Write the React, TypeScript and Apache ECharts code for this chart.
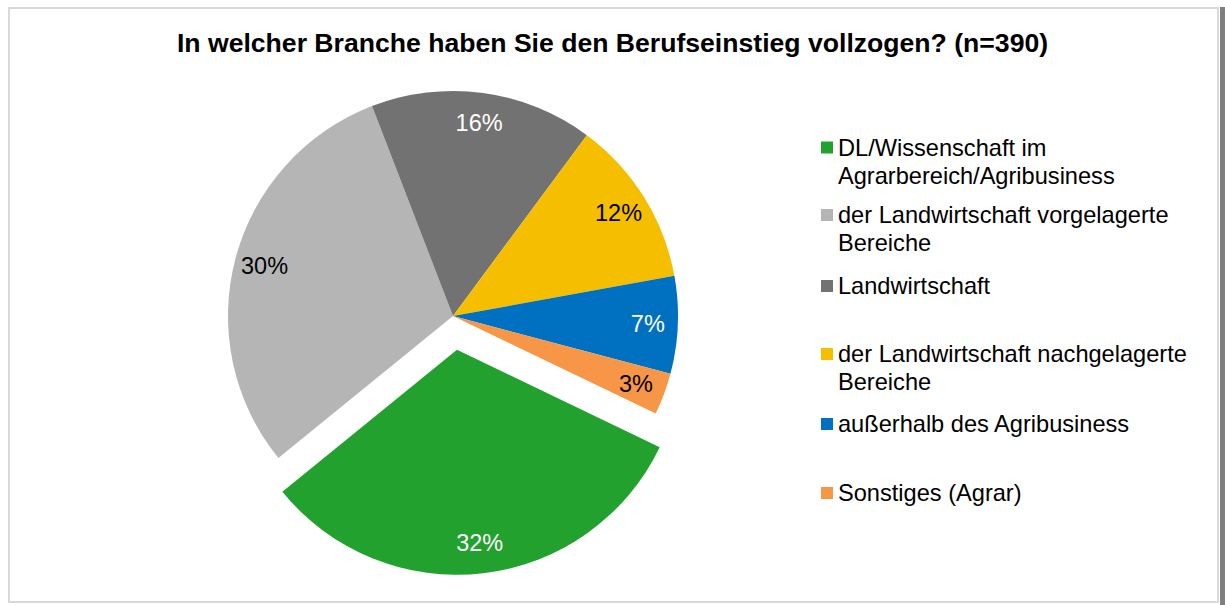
import React, { useEffect, useRef } from "react";
import * as echarts from "echarts";

const FONT = "'Liberation Sans', Arial, sans-serif";

const titleText = "In welcher Branche haben Sie den Berufseinstieg vollzogen? (n=390)";
const categories = [
  "DL/Wissenschaft im\nAgrarbereich/Agribusiness",
  "der Landwirtschaft vorgelagerte\nBereiche",
  "Landwirtschaft",
  "der Landwirtschaft nachgelagerte\nBereiche",
  "außerhalb des Agribusiness",
  "Sonstiges (Agrar)",
];
const shares = [32, 30, 16, 12, 7, 3];

const colors = ["#22A12F", "#B5B5B5", "#727272", "#F5BF00", "#0070C0", "#F79646"];
const labelColors = ["#FFFFFF", "#000000", "#FFFFFF", "#000000", "#FFFFFF", "#000000"];
const legendCenters = [147.5, 215, 286, 354, 424, 493];

export default function App() {
  const ref = useRef<HTMLDivElement>(null);
  useEffect(() => {
    if (!ref.current) return;
    const chart = echarts.init(ref.current, undefined, { renderer: "svg" });
    const center = [453, 316];
    const startAngle = -25.7;
    const legends = categories.map((name, i) => {
      const multi = name.includes("\n");
      return {
        data: [{ name, itemStyle: { color: colors[i] } }],
        left: 821,
        top: multi ? legendCenters[i] - 42 : legendCenters[i] - 14,
        orient: "vertical",
        padding: 0,
        itemWidth: 12,
        itemHeight: 12,
        icon: "rect",
        selectedMode: false,
        formatter: (n: string) => (multi ? "\n" + n : n),
        textStyle: {
          fontSize: 23.6,
          fontFamily: FONT,
          color: "#000000",
          lineHeight: 28,
          backgroundColor: "transparent",
        },
      };
    });
    chart.setOption({
      animation: false,
      backgroundColor: "#FFFFFF",
      title: {
        text: titleText,
        left: "center",
        top: 27.5,
        padding: 0,
        textStyle: {
          fontSize: 26.6,
          fontWeight: "bold",
          fontFamily: FONT,
          color: "#000000",
          lineHeight: 30,
        },
      },
      legend: legends,
      graphic: [
        {
          type: "rect",
          shape: { x: 9, y: 8, width: 1209, height: 594 },
          style: { fill: "none", stroke: "#D9D9D9", lineWidth: 2 },
          silent: true,
        },
        {
          type: "rect",
          shape: { x: 1220, y: 7, width: 5, height: 598 },
          style: { fill: "#7F7F7F" },
          silent: true,
        },
      ],
      series: [
        {
          type: "pie",
          center,
          radius: [0, 225],
          startAngle,
          clockwise: true,
          selectedMode: "single",
          selectedOffset: 34,
          avoidLabelOverlap: false,
          emphasis: { disabled: true },
          itemStyle: { borderWidth: 0 },
          label: { show: false },
          labelLine: { show: false },
          data: shares.map((v, i) => ({
            name: categories[i],
            value: v,
            selected: i === 0,
            itemStyle: { color: colors[i] },
          })),
        },
        {
          type: "pie",
          center,
          radius: [159, 225],
          startAngle,
          clockwise: true,
          silent: true,
          selectedMode: "single",
          selectedOffset: 34,
          avoidLabelOverlap: false,
          emphasis: { disabled: true },
          itemStyle: { color: "rgba(0,0,0,0)", borderWidth: 0 },
          labelLine: { show: false },
          label: {
            show: true,
            position: "inside",
            fontSize: 23.5,
            fontFamily: FONT,
            textBorderWidth: 0,
            formatter: (p: any) => `${p.value}%`,
          },
          data: shares.map((v, i) => ({
            name: categories[i],
            value: v,
            selected: i === 0,
            itemStyle: { color: "rgba(0,0,0,0)" },
            label: { color: labelColors[i] },
          })),
        },
      ],
    });
    return () => chart.dispose();
  }, []);
  return (
    <div
      ref={ref}
      style={{ position: "absolute", left: 0, top: 0, width: 1225, height: 605 }}
    />
  );
}
